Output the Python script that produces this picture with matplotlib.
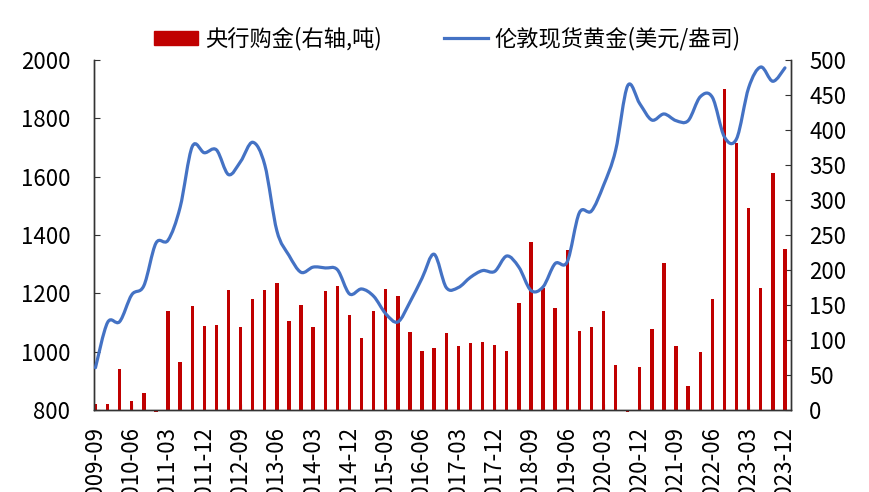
import matplotlib
matplotlib.use("Agg")
import matplotlib.pyplot as plt
from matplotlib.path import Path
from matplotlib.patches import PathPatch
from matplotlib.lines import Line2D
from matplotlib.patches import Patch
import numpy as np

plt.rcParams['font.family'] = ['Noto Sans CJK SC', 'DejaVu Sans']

# Quarterly periods 2009-09 ... 2023-12
quarters = [f"{y}-{m:02d}" for y in range(2009, 2024) for m in (3, 6, 9, 12)][2:]

# Central bank gold purchases (tonnes, right axis)
cb_purchases = [8, 9, 59, 13, 24, -3, 142, 69, 148, 120,
                122, 171, 118, 158, 171, 181, 127, 150, 119, 170,
                177, 136, 103, 141, 173, 163, 111, 85, 89, 110,
                92, 96, 97, 93, 85, 153, 240, 175, 146, 228,
                113, 118, 141, 64, -3, 61, 116, 210, 91, 34,
                83, 159, 459, 382, 288, 175, 338, 230]

# London spot gold (USD/oz, left axis)
gold_price = [945, 1100, 1103, 1195, 1226, 1372, 1382, 1495, 1703, 1682,
              1692, 1607, 1652, 1718, 1640, 1414, 1330, 1272, 1290, 1287,
              1281, 1198, 1215, 1190, 1130, 1102, 1170, 1252, 1334, 1220,
              1220, 1255, 1278, 1275, 1328, 1290, 1210, 1222, 1302, 1308,
              1476, 1482, 1570, 1690, 1912, 1850, 1794, 1815, 1792, 1792,
              1874, 1872, 1736, 1730, 1905, 1976, 1927, 1973]

label_bar = "央行购金(右轴,吨)"
label_line = "伦敦现货黄金(美元/盎司)"

RED = "#C00000"
BLUE = "#4472C4"
FS = 16

fig = plt.figure(figsize=(8.7, 4.92), dpi=100)
ax = fig.add_axes([94/870, 82/492, (791-94)/870, (410-60)/492])
ax2 = ax.twinx()

x = np.arange(len(quarters))

# bars on ax (right-side axis)
ax.bar(x, cb_purchases, width=0.28, color=RED, clip_on=False, zorder=2)
ax.set_ylim(0, 500)
ax.set_yticks(np.arange(0, 501, 50))
ax.yaxis.tick_right()
ax.yaxis.set_label_position("right")

# smoothed line on ax2 (left-side axis)
P = np.column_stack([x, gold_price]).astype(float)
verts = [tuple(P[0])]
codes = [Path.MOVETO]
n = len(P)
for i in range(n - 1):
    p0 = P[i - 1] if i > 0 else P[i]
    p1 = P[i]
    p2 = P[i + 1]
    p3 = P[i + 2] if i + 2 < n else P[i + 1]
    c1 = p1 + (p2 - p0) / 6.0
    c2 = p2 - (p3 - p1) / 6.0
    verts += [tuple(c1), tuple(c2), tuple(p2)]
    codes += [Path.CURVE4] * 3
ax2.add_patch(PathPatch(Path(verts, codes), facecolor='none', edgecolor=BLUE,
                        lw=2.3, capstyle='round', joinstyle='round', zorder=3))
ax2.set_ylim(800, 2000)
ax2.set_yticks(np.arange(800, 2001, 200))
ax2.yaxis.tick_left()

ax.set_xlim(-0.12, 57.5)
ax.set_xticks(x[::3])
ax.set_xticklabels(quarters[::3], rotation=90, fontsize=FS)

for a in (ax, ax2):
    for s in a.spines.values():
        s.set_color("#333333")
        s.set_linewidth(1.0)
    a.spines['top'].set_visible(False)

ax.tick_params(axis='x', direction='in', length=4, pad=12, color='#333333')
ax.tick_params(axis='y', direction='in', length=4, pad=13, labelsize=FS, color='#333333')
ax2.tick_params(axis='y', direction='in', length=4, pad=17, labelsize=FS, color='#333333')

handles = [Patch(facecolor=RED, edgecolor=RED),
           Line2D([0], [0], color=BLUE, lw=2.3)]
fig.legend(handles, [label_bar, label_line], loc='center',
           bbox_to_anchor=(0.514, 0.921), ncol=2, frameon=False,
           fontsize=FS, handlelength=2.0, handleheight=0.55,
           handletextpad=0.3, columnspacing=2.8)

fig.savefig("out.png", dpi=100)
